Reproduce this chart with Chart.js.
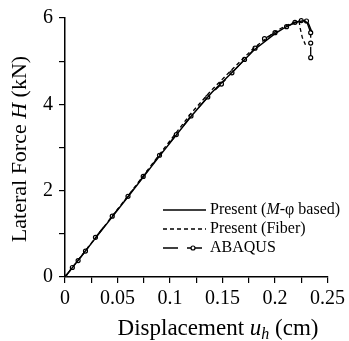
<!DOCTYPE html>
<html>
<head>
<meta charset="utf-8">
<title>Lateral Force vs Displacement</title>
<script src="https://cdn.jsdelivr.net/npm/chart.js"></script>
<style>
  html, body { margin: 0; padding: 0; background: #fff; }
  #wrap { width: 349px; height: 341px; }
</style>
</head>
<body>
<div id="wrap"><canvas id="forceChart"></canvas></div>
<script>
// Present (M-phi based)
const mphiX = [0, 0.03, 0.06, 0.09, 0.12, 0.14, 0.16, 0.18, 0.2, 0.21, 0.22, 0.228, 0.232, 0.235];
const mphiY = [0, 0.93, 1.86, 2.8, 3.72, 4.28, 4.76, 5.26, 5.64, 5.79, 5.9, 5.94, 5.86, 5.68];

// Present (Fiber)
const fiberX = [0, 0.03, 0.06, 0.09, 0.12, 0.14, 0.16, 0.18, 0.2, 0.21, 0.218, 0.223, 0.224, 0.226, 0.229];
const fiberY = [0, 0.94, 1.88, 2.84, 3.79, 4.34, 4.83, 5.31, 5.68, 5.82, 5.9, 5.92, 5.76, 5.55, 5.38];

// ABAQUS
const abaqusX = [0, 0.007, 0.0125, 0.0195, 0.029, 0.045, 0.06, 0.0745, 0.09, 0.106, 0.12, 0.136, 0.149,
                 0.159, 0.171, 0.181, 0.19, 0.2, 0.211, 0.219, 0.225, 0.23, 0.234, 0.234, 0.234];
const abaqusY = [0, 0.22, 0.38, 0.6, 0.92, 1.41, 1.87, 2.33, 2.82, 3.3, 3.73, 4.17, 4.47,
                 4.73, 5.04, 5.3, 5.52, 5.66, 5.8, 5.9, 5.94, 5.93, 5.66, 5.42, 5.08];

const seriesLabels = ["Present (M-\u03c6 based)", "Present (Fiber)", "ABAQUS"];
const xTickLabels = [0, 0.05, 0.1, 0.15, 0.2, 0.25];
const yTickLabels = [0, 2, 4, 6];

const SERIF = "'Liberation Serif', 'Times New Roman', serif";

function toPoints(xs, ys) {
  return xs.map((x, i) => ({ x: x, y: ys[i] }));
}

function isLabelled(v, list) {
  return list.some(t => Math.abs(t - v) < 1e-6);
}

// draw a string made of pieces: [text, italic, subscript]
function drawParts(ctx, parts, x, y, size, align) {
  const fontFor = p => (p[1] ? "italic " : "") + (p[2] ? Math.round(size * 0.7) : size) + "px " + SERIF;
  const widths = parts.map(p => { ctx.font = fontFor(p); return ctx.measureText(p[0]).width; });
  const total = widths.reduce((a, b) => a + b, 0);
  let cx = align === "left" ? x : x - total / 2;
  ctx.textAlign = "left";
  ctx.textBaseline = "middle";
  parts.forEach((p, i) => {
    ctx.font = fontFor(p);
    ctx.fillText(p[0], cx, y + (p[2] ? size * 0.25 : 0));
    cx += widths[i];
  });
}

// axis titles and the legend, drawn inside the plot like the original figure
const annotations = {
  id: "annotations",
  afterDraw(chart) {
    const ctx = chart.ctx;
    const area = chart.chartArea;
    ctx.save();
    ctx.fillStyle = "#000";

    drawParts(ctx, [["Displacement ", false], ["u", true], ["h", true, true], [" (cm)", false]],
      area.left + 153, area.bottom + 52, 23);

    ctx.save();
    ctx.translate(20, area.top + 131);
    ctx.rotate(-Math.PI / 2);
    drawParts(ctx, [["Lateral Force ", false], ["H", true], [" (kN)", false]], 0, 0, 22);
    ctx.restore();

    // legend
    const lx0 = area.left + 98, lx1 = area.left + 141, tx = area.left + 145;
    const rows = [area.bottom - 67, area.bottom - 48, area.bottom - 29];
    const labelParts = [
      [["Present (", false], ["M", true], ["-\u03c6 based)", false]],
      [[seriesLabels[1], false]],
      [[seriesLabels[2], false]]
    ];
    chart.data.datasets.forEach((ds, i) => {
      ctx.save();
      ctx.strokeStyle = ds.borderColor;
      ctx.lineWidth = ds.borderWidth;
      ctx.setLineDash(ds.borderDash || []);
      ctx.beginPath();
      ctx.moveTo(lx0, rows[i]);
      ctx.lineTo(lx1, rows[i]);
      ctx.stroke();
      if (ds.pointRadius > 0) {
        ctx.setLineDash([]);
        ctx.fillStyle = ds.pointBackgroundColor;
        ctx.lineWidth = ds.pointBorderWidth;
        ctx.beginPath();
        ctx.arc(lx0 + 30, rows[i], ds.pointRadius, 0, Math.PI * 2);
        ctx.fill();
        ctx.stroke();
      }
      ctx.restore();
      ctx.fillStyle = "#000";
      drawParts(ctx, labelParts[i], tx, rows[i], 16, "left");
    });
    ctx.restore();
  }
};

const ctx = document.getElementById("forceChart").getContext("2d");
new Chart(ctx, {
  type: "line",
  data: {
    datasets: [
      {
        label: seriesLabels[0],
        data: toPoints(mphiX, mphiY),
        borderColor: "#000",
        borderWidth: 1.5,
        pointRadius: 0,
        tension: 0
      },
      {
        label: seriesLabels[1],
        data: toPoints(fiberX, fiberY),
        borderColor: "#000",
        borderWidth: 1.3,
        borderDash: [4, 3],
        pointRadius: 0,
        tension: 0
      },
      {
        label: seriesLabels[2],
        data: toPoints(abaqusX, abaqusY),
        borderColor: "#000",
        borderWidth: 1.3,
        borderDash: [15, 9],
        pointRadius: 2,
        pointBorderWidth: 1.2,
        pointBackgroundColor: "#fff",
        pointBorderColor: "#000",
        tension: 0
      }
    ]
  },
  options: {
    responsive: true,
    maintainAspectRatio: false,
    animation: false,
    layout: { padding: { top: 16, right: 19, bottom: 0, left: 0 } },
    plugins: {
      legend: { display: false },
      tooltip: { enabled: false }
    },
    scales: {
      x: {
        type: "linear",
        min: 0,
        max: 0.25,
        ticks: {
          stepSize: 0.025,
          autoSkip: false,
          maxRotation: 0,
          color: "#000",
          padding: 4,
          font: { family: SERIF, size: 20 },
          callback: v => isLabelled(v, xTickLabels) ? String(+v.toFixed(3)) : ""
        },
        grid: { drawOnChartArea: false, color: "#000", tickLength: 6, lineWidth: 1.2 },
        border: { color: "#000", width: 1.5 },
        afterFit: s => { s.height = 64; }
      },
      y: {
        min: 0,
        max: 6,
        ticks: {
          stepSize: 1,
          autoSkip: false,
          color: "#000",
          padding: 6,
          font: { family: SERIF, size: 20 },
          callback: v => isLabelled(v, yTickLabels) ? String(v) : ""
        },
        grid: { drawOnChartArea: false, color: "#000", tickLength: 6, lineWidth: 1.2 },
        border: { color: "#000", width: 1.5 },
        afterFit: s => { s.width = 65; }
      }
    }
  },
  plugins: [annotations]
});
</script>
</body>
</html>
